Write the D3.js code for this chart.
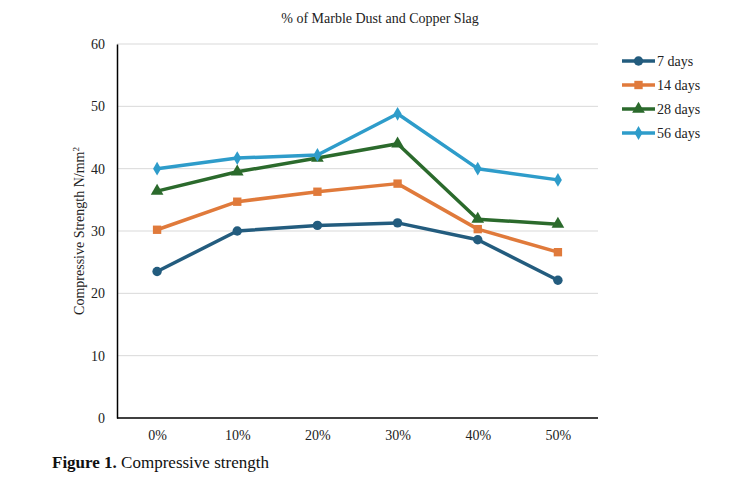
<!DOCTYPE html>
<html>
<head>
<meta charset="utf-8">
<script src="https://cdn.jsdelivr.net/npm/d3@7"></script>
<style>
  body { margin: 0; background: #fff; }
  svg, text, tspan { font-family: "Liberation Serif", "Times New Roman", serif; }
</style>
</head>
<body>
<svg id="chart"></svg>
<script>
// data
var categories = ['0%', '10%', '20%', '30%', '40%', '50%'];
var seriesNames = ['7 days', '14 days', '28 days', '56 days'];
var days7 = [23.5, 30.0, 30.9, 31.3, 28.6, 22.1];
var days14 = [30.2, 34.7, 36.3, 37.6, 30.3, 26.6];
var days28 = [36.4, 39.5, 41.7, 44.0, 31.9, 31.1];
var days56 = [40.0, 41.7, 42.2, 48.8, 40.0, 38.2];
var yTicks = [0, 10, 20, 30, 40, 50, 60];

var seriesValues = [days7, days14, days28, days56];
var colors = ['#235c7e', '#e07a3b', '#2b6a2c', '#2e9cca'];
var shapes = [d3.symbolCircle, d3.symbolSquare, d3.symbolTriangle, d3.symbolDiamond];

var width = 747, height = 482;
// plot area edges (don't call these top/left: window.top is taken)
var plot = { left: 117, right: 598, top: 44, bottom: 418 };
var serif = '"Liberation Serif", "Times New Roman", serif';

var svg = d3.select('#chart').attr('width', width).attr('height', height)
  .attr('font-family', serif);

var x = d3.scalePoint().domain(categories).range([plot.left, plot.right]).padding(0.5);
var y = d3.scaleLinear().domain([0, 60]).range([plot.bottom, plot.top]);

// gridlines
svg.selectAll('.grid').data(yTicks.slice(1))
  .enter().append('line')
    .attr('x1', plot.left).attr('x2', plot.right)
    .attr('y1', function (d) { return y(d); })
    .attr('y2', function (d) { return y(d); })
    .attr('stroke', '#d9d9d9').attr('stroke-width', 1);

// y axis
var yAxis = svg.append('g')
  .attr('transform', 'translate(' + plot.left + ',0)')
  .call(d3.axisLeft(y).tickValues(yTicks).tickSize(0).tickPadding(12));
yAxis.attr('font-family', null);
yAxis.select('.domain').attr('stroke', '#000').attr('stroke-width', 1.5);
yAxis.selectAll('text').style('font-size', '14px').attr('fill', '#222');

// x axis
var xAxis = svg.append('g')
  .attr('transform', 'translate(0,' + plot.bottom + ')')
  .call(d3.axisBottom(x).tickSize(0).tickPadding(12));
xAxis.attr('font-family', null);
xAxis.select('.domain').attr('d', 'M' + plot.left + ',0H' + plot.right).attr('stroke', '#000').attr('stroke-width', 1.5);
xAxis.selectAll('text').style('font-size', '14px').attr('fill', '#222');

// lines
var line = d3.line()
  .x(function (d, i) { return x(categories[i]); })
  .y(function (d) { return y(d); });

seriesValues.forEach(function (vals, s) {
  svg.append('path')
    .attr('d', line(vals))
    .attr('fill', 'none')
    .attr('stroke', colors[s])
    .attr('stroke-width', 3.5)
    .attr('stroke-linejoin', 'round');
  svg.selectAll('.m' + s).data(vals)
    .enter().append('path')
      .attr('d', d3.symbol().type(shapes[s]).size(s === 3 ? 55 : 70))
      .attr('transform', function (d, i) { return 'translate(' + x(categories[i]) + ',' + y(d) + ')'; })
      .attr('fill', colors[s]);
});

// title
svg.append('text')
  .attr('x', 380).attr('y', 23)
  .attr('text-anchor', 'middle')
  .attr('fill', '#222')
  .style('font-size', '14px')
  .text('% of Marble Dust and Copper Slag');

// y label
svg.append('text')
  .attr('transform', 'translate(84,' + ((plot.top + plot.bottom) / 2) + ') rotate(-90)')
  .attr('text-anchor', 'middle')
  .attr('fill', '#222')
  .style('font-size', '14px')
  .html('Compressive Strength N/mm<tspan dy="-5" font-size="9px">2</tspan>');

// legend
var legend = svg.selectAll('.legend').data(seriesNames)
  .enter().append('g')
    .attr('transform', function (d, i) { return 'translate(622,' + (61 + i * 24) + ')'; });
legend.append('line')
  .attr('x1', 0).attr('x2', 33)
  .attr('stroke', function (d, i) { return colors[i]; })
  .attr('stroke-width', 3.5);
legend.append('path')
  .attr('d', function (d, i) { return d3.symbol().type(shapes[i]).size(i === 3 ? 55 : 70)(); })
  .attr('transform', 'translate(16.5,0)')
  .attr('fill', function (d, i) { return colors[i]; });
legend.append('text')
  .attr('x', 35).attr('y', 5)
  .attr('fill', '#222')
  .style('font-size', '14px')
  .text(function (d) { return d; });

// caption
var cap = svg.append('text')
  .attr('x', 52).attr('y', 468)
  .attr('fill', '#111')
  .style('font-family', serif)
  .style('font-size', '17px');
cap.append('tspan').style('font-family', serif).attr('font-weight', 'bold').text('Figure 1.');
cap.append('tspan').style('font-family', serif).text('\u00a0Compressive strength');
</script>
</body>
</html>
